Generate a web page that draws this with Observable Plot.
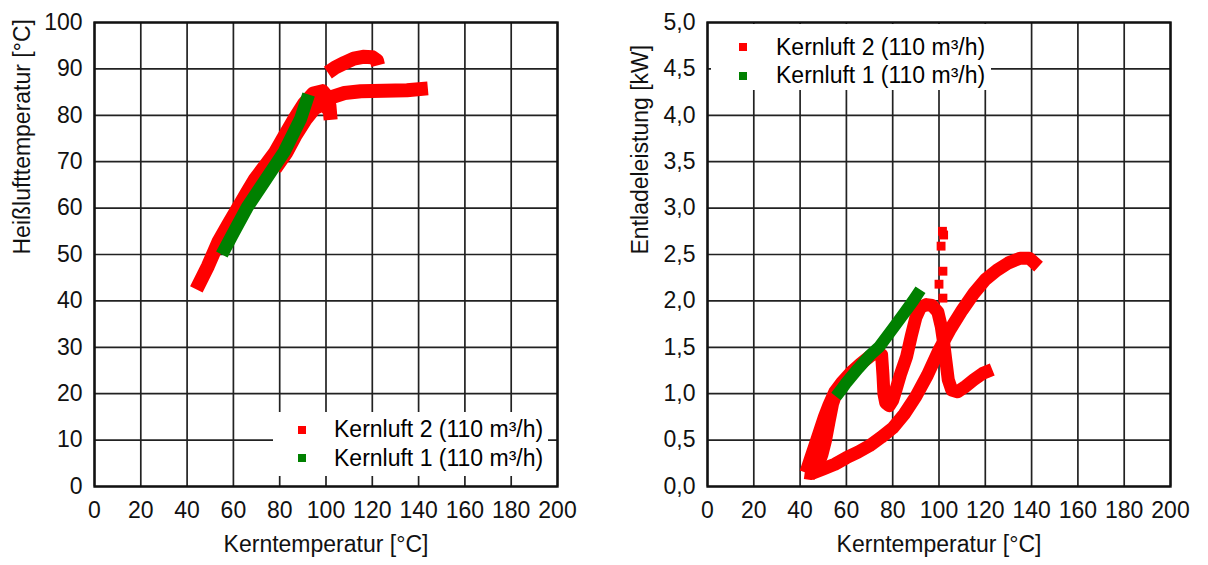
<!DOCTYPE html>
<html><head><meta charset="utf-8">
<script src="https://cdn.jsdelivr.net/npm/d3@7"></script>
<script src="https://cdn.jsdelivr.net/npm/@observablehq/plot@0.6"></script>
<style>
body{margin:0;background:#fff;}
#wrap{position:relative;width:1208px;height:565px;display:flex;font-family:"Liberation Sans",Arial,sans-serif;}
.legend{position:absolute;background:#fff;font-size:23px;line-height:23px;color:#000;}
.legend .txt{position:absolute;white-space:nowrap;}
.legend .sw{position:absolute;width:8px;height:8px;}
</style></head><body><div id="wrap"></div>
<script>
// ---- ticks / labels ----
const xTicks = [0,20,40,60,80,100,120,140,160,180,200];
const yTicksLeft = [0,10,20,30,40,50,60,70,80,90,100];
const yTicksRight = [0,0.5,1,1.5,2,2.5,3,3.5,4,4.5,5];
const xTitle = "Kerntemperatur [°C]";
const yTitleLeft = "Heißlufttemperatur [°C]";
const yTitleRight = "Entladeleistung [kW]";
const seriesNames = ["Kernluft 2 (110 m³/h)", "Kernluft 1 (110 m³/h)"];
const seriesColors = ["#ff0000", "#008000"];

// ---- left panel: Heißlufttemperatur vs Kerntemperatur ----
// Kernluft 2 (red), traced segments [Kerntemperatur, Heißlufttemperatur]
const k2HeissRise = [[44,42.5],[49,47.5],[53.5,52.7],[57.8,56.5],[62.2,60.2],[65.8,63.3],[69.4,66.3],[73.8,69.2],[78,72],[82,75.5],[86.3,79.2],[90.5,82.5],[94.5,84.7],[98.5,85.2],[100.5,84],[101.5,82],[102,79]];
const k2HeissRise2 = [[78,68.5],[82.9,72],[87,75.8],[91.3,79.2],[95,81.5],[99,82.5],[101.5,81]];
const k2HeissLow = [[100,83],[103,84],[108,84.8],[115,85.2],[125,85.3],[135,85.4],[144,85.8]];
const k2HeissHigh = [[100.8,89.2],[104,90.3],[108,91.3],[112,92.2],[116,92.6],[120,92.5],[122,91.8],[122.5,90.8]];
// Kernluft 1 (green)
const k1Heiss = [[55,50],[60,54.7],[66,60.2],[74,66.2],[82,72.2],[89,79.2],[92.5,84.5]];

// ---- right panel: Entladeleistung vs Kerntemperatur ----
const k2PowA = [[42,0.15],[45,0.14],[50,0.19],[55,0.24],[60,0.31],[65,0.37],[70,0.44],[75,0.53],[80,0.63],[85,0.78],[90,0.97],[95,1.2],[100,1.47],[105,1.7],[110,1.9],[115,2.08],[120,2.23],[125,2.33],[130,2.41],[135,2.46],[139,2.46],[143,2.37]];
const k2PowB = [[42.5,0.15],[44.5,0.3],[46.5,0.45],[48.5,0.6],[50.5,0.75],[52.5,0.88],[55,1.02],[58,1.12],[62,1.23],[66,1.32],[70,1.4],[73,1.45],[75.2,1.42],[75.8,1.2],[76.2,1.0],[77,0.9],[78.5,0.87],[80,0.93],[81.5,1.05],[83.5,1.22],[86,1.4],[88,1.62],[90,1.82],[92,1.93],[94.5,1.96],[97,1.95],[99.5,1.88],[101,1.72],[102,1.55],[103,1.35],[104,1.15],[105.5,1.04],[108,1.02],[111,1.07],[115,1.15],[119,1.22],[123,1.26]];
const k2PowC = [[44,0.12],[47.5,0.21],[49.5,0.35],[51,0.5],[52.5,0.7],[54,0.89],[55.5,1.0]];
const k2PowDots = [[101.5,2.75],[102,2.71],[100.9,2.59],[101.7,2.32],[100,2.18],[101.7,2.03]];
const k1Pow = [[55.5,0.97],[58,1.05],[60,1.12],[65,1.27],[70,1.41],[74,1.5],[80,1.7],[85,1.87],[88.8,2.0],[92,2.12]];

const rows = (segs) => segs.flatMap((s, i) => s.map(([t, v]) => ({t, v, seg: i})));
const fmtComma = d => d.toFixed(1).replace(".", ",");

function panel({red, redDots, green, yDomain, yTicks, yFmt, yTitle, marginLeft, marginRight, yTitleDx, swRed, swGreen}) {
  return Plot.plot({
    width: 604, height: 565,
    marginLeft, marginRight, marginTop: 22, marginBottom: 79,
    style: {fontFamily: "Liberation Sans, Arial, sans-serif", fontSize: "23px", color: "#111", background: "#fff", overflow: "visible"},
    x: {domain: [0, 200]},
    y: {domain: yDomain},
    marks: [
      Plot.gridX({ticks: xTicks, stroke: "#222", strokeOpacity: 1, strokeWidth: 1.7}),
      Plot.gridY({ticks: yTicks, stroke: "#222", strokeOpacity: 1, strokeWidth: 1.7}),
      Plot.line(rows(red), {x: "t", y: "v", z: "seg", stroke: seriesColors[0], strokeWidth: swRed, strokeLinejoin: "round", strokeLinecap: "butt"}),
      redDots ? Plot.dot(redDots, {x: d => d[0], y: d => d[1], symbol: "square", r: 5, fill: seriesColors[0]}) : null,
      Plot.line(rows([green]), {x: "t", y: "v", z: "seg", stroke: seriesColors[1], strokeWidth: swGreen, strokeLinejoin: "round", strokeLinecap: "butt"}),
      Plot.frame({stroke: "#111", strokeWidth: 2.4}),
      Plot.axisX({ticks: xTicks, tickSize: 0, tickPadding: 15, label: null}),
      Plot.axisY({ticks: yTicks, tickSize: 0, tickPadding: 12, tickFormat: yFmt, label: null}),
      Plot.text([xTitle], {frameAnchor: "bottom", dy: 65, text: d => d}),
      Plot.text([yTitle], {frameAnchor: "left", rotate: -90, dx: yTitleDx, text: d => d})
    ]
  });
}

const wrap = document.getElementById("wrap");
wrap.appendChild(panel({
  red: [k2HeissRise, k2HeissRise2, k2HeissLow, k2HeissHigh], green: k1Heiss,
  yDomain: [0, 100], yTicks: yTicksLeft, yFmt: d => String(d), yTitle: yTitleLeft,
  marginLeft: 94, marginRight: 47, yTitleDx: -72, swRed: 14, swGreen: 13
}));
wrap.appendChild(panel({
  red: [k2PowA, k2PowB, k2PowC], redDots: k2PowDots, green: k1Pow,
  yDomain: [0, 5], yTicks: yTicksRight, yFmt: fmtComma, yTitle: yTitleRight,
  marginLeft: 103, marginRight: 38, yTitleDx: -67, swRed: 13, swGreen: 12
}));

function legend(box, sq, txt) {
  const div = document.createElement("div");
  div.className = "legend";
  Object.assign(div.style, {left: box[0] + "px", top: box[1] + "px", width: box[2] + "px", height: box[3] + "px"});
  seriesNames.forEach((name, i) => {
    const s = document.createElement("div");
    s.className = "sw";
    Object.assign(s.style, {left: sq[0] + "px", top: sq[1 + i] + "px", background: seriesColors[i]});
    div.appendChild(s);
    const t = document.createElement("div");
    t.className = "txt";
    t.textContent = name;
    Object.assign(t.style, {left: txt[0] + "px", top: txt[1 + i] + "px"});
    div.appendChild(t);
  });
  wrap.appendChild(div);
}
legend([273, 412, 275, 64], [24.7, 14.3, 41.5], [61, 5.8, 34.5]);
legend([711, 24, 280, 66], [28.3, 19, 47.5], [65, 12.2, 39.8]);
</script>
</body></html>
